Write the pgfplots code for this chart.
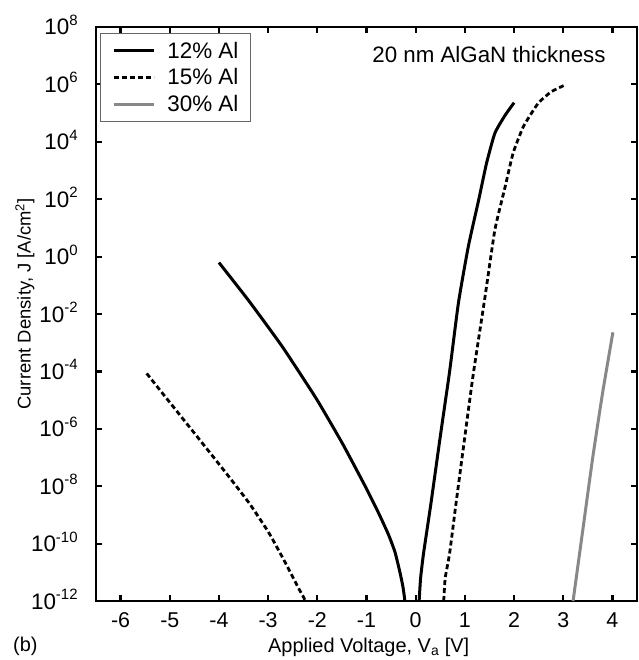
\documentclass[border=0pt]{standalone}
\usepackage{pgfplots}
\pgfplotsset{compat=1.18}
\usepackage{fontspec}
\setmainfont{Liberation Sans}
\definecolor{lgray}{RGB}{136,136,136}
\newcommand{\ex}[1]{10\raisebox{0.42em}{\fontsize{15}{17}\selectfont #1}}
\begin{document}
\begin{tikzpicture}
\path[use as bounding box] (-96bp,-59bp) rectangle (543bp,601bp);
\begin{axis}[
  at={(0,0)}, anchor=south west,
  scale only axis, width=541bp, height=574bp,
  line width=2.8bp,
  xmin=-6.5, xmax=4.5,
  ymode=log, ymin=1e-12, ymax=1e8,
  xtick={-6,-5,-4,-3,-2,-1,0,1,2,3,4},
  xticklabels={-6,-5,-4,-3,-2,-1,0,1,2,3,4},
  ytick={1e-12,1e-10,1e-8,1e-6,1e-4,1e-2,1,1e2,1e4,1e6,1e8},
  yticklabels={\ex{-12},\ex{-10},\ex{-8},\ex{-6},\ex{-4},\ex{-2},\ex{0},\ex{2},\ex{4},\ex{6},\ex{8}},
  yminorticks=false,
  tick align=inside,
  major tick length=6bp,
  tick style={line width=2.2bp, black},
  axis line style={line width=2.8bp},
  xticklabel style={font=\fontsize{21.5}{25}\selectfont, anchor=base, inner sep=0pt, yshift=-26.5bp},
  yticklabel style={font=\fontsize{22.5}{26}\selectfont, anchor=base east, inner sep=0pt, xshift=-17bp, yshift=-8bp},
  xlabel={Applied Voltage, V\textsubscript{a} [V]},
  xlabel style={font=\fontsize{20}{24}\selectfont, at={(axis description cs:0.504,-0.0889)}, anchor=base, inner sep=0pt},
  ylabel={Current Density, J [A/cm\textsuperscript{2}]},
  ylabel style={font=\fontsize{18.5}{22}\selectfont, at={(axis description cs:-0.1312,0.5174)}, anchor=center, inner sep=0pt},
  legend style={at={(axis description cs:0.0074,0.9895)}, anchor=north west,
    draw=black!60, line width=0.8bp, fill=white,
    font=\fontsize{22.5}{26}\selectfont,
    nodes={inner sep=0bp},
    inner xsep=12bp, inner ysep=8.5bp, row sep=9bp, column sep=12bp,
    cells={anchor=west}},
  legend image code/.code={\draw[#1] (0bp,0bp) -- (40bp,0bp);},
]
\addplot[black, line width=3bp, smooth, tension=0.3] coordinates {
(-4.00,6.2e-1) (-3.38,2.7e-2) (-2.71,7.2e-4) (-2.02,1.12e-5) (-1.49,3.1e-7)
(-1.02,9.5e-9) (-0.75,1.12e-9) (-0.55,2.0e-10) (-0.42,5.0e-11) (-0.32,1.0e-11)
(-0.26,3.2e-12) (-0.23,1.4e-12) (-0.22,1e-12)};
\addlegendentry{12\% Al}
\addplot[black, line width=2.8bp, dash pattern=on 5bp off 3bp, smooth, tension=0.3] coordinates {
(-5.47,8.5e-5) (-4.93,5.9e-6) (-4.39,4.1e-7) (-3.85,2.8e-8) (-3.38,2.5e-9)
(-2.98,2.3e-10) (-2.64,2.0e-11) (-2.40,3.2e-12) (-2.27,1.26e-12) (-2.25,1e-12)};
\addlegendentry{15\% Al}
\addplot[lgray, line width=3bp, smooth, tension=0.3] coordinates {
(3.20,1e-12) (3.40,3.16e-10) (3.60,1e-7) (3.80,1.78e-5) (4.01,2.3e-3)};
\addlegendentry{30\% Al}
\addplot[black, line width=3bp, forget plot, smooth, tension=0.3] coordinates {
(0.07,1e-12) (0.10,6.3e-12) (0.16,4.6e-11) (0.31,2.5e-9) (0.50,5.4e-7)
(0.69,1e-4) (0.87,2.5e-2) (1.07,2.24) (1.28,93) (1.44,1.78e3)
(1.61,2.0e4) (1.82,8.5e4) (2.00,2.3e5)};
\addplot[black, line width=2.8bp, dash pattern=on 5bp off 3bp, forget plot, smooth, tension=0.3] coordinates {
(0.57,1e-12) (0.60,6.3e-12) (0.69,4.6e-11) (0.82,2.5e-9) (1.00,5.4e-7)
(1.17,7.9e-5) (1.41,4.0e-2) (1.61,8.5) (1.82,275) (1.98,4.0e3)
(2.19,3.4e4) (2.49,2.2e5) (2.76,5.6e5) (3.01,9.1e5)};
\node[font=\fontsize{22.4}{26}\selectfont, anchor=base, inner sep=0pt] at (axis description cs:0.7264,0.9373) {20 nm AlGaN thickness};
\end{axis}
\node[font=\fontsize{20}{24}\selectfont, anchor=base west, inner sep=0pt] at (-83bp,-50bp) {(b)};
\end{tikzpicture}
\end{document}
